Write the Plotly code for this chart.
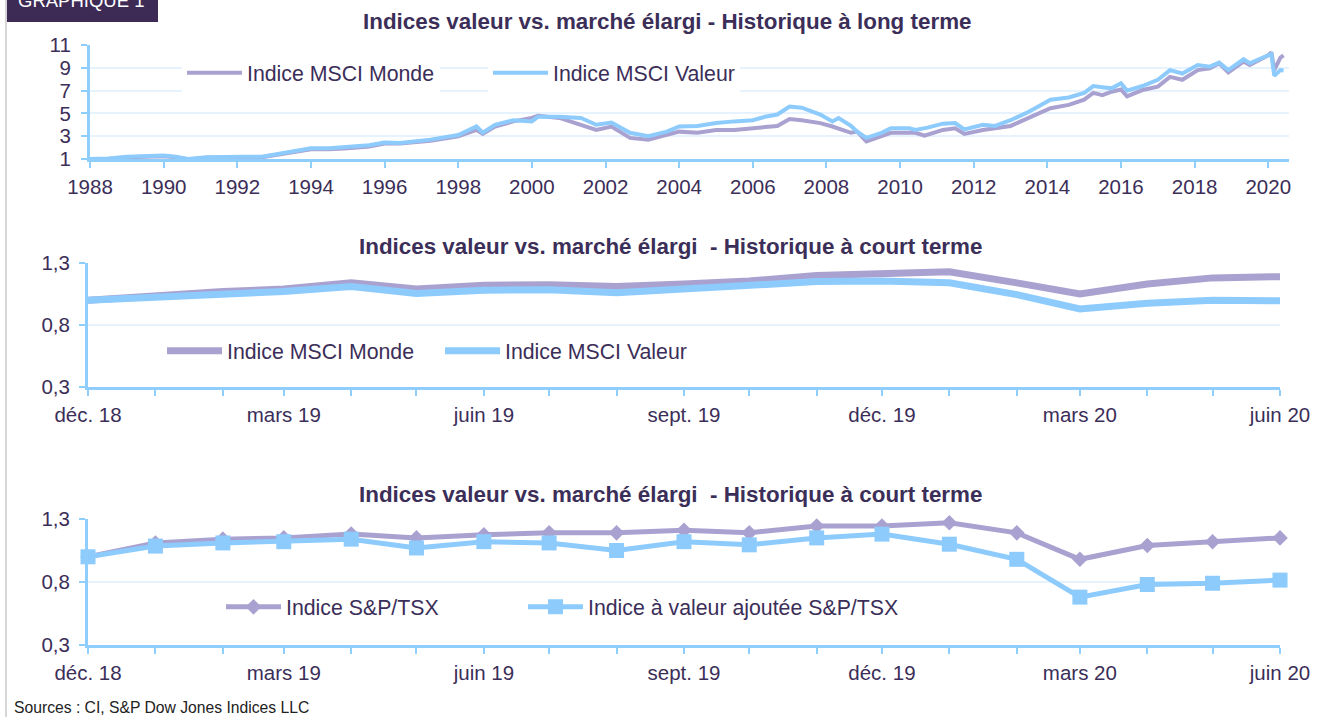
import plotly.graph_objects as go

# ---------------- DATA ----------------
# Long-term history
lt_monde_dates = ["1988-01", "1988-07", "1989-01", "1989-07", "1990-01", "1990-05", "1990-09", "1991-03",
                  "1991-09", "1992-03", "1992-09", "1993-01", "1993-06", "1994-01", "1994-07", "1995-01",
                  "1995-08", "1996-01", "1996-06", "1997-04", "1998-01", "1998-07", "1998-09", "1999-01",
                  "1999-07", "2000-01", "2000-03", "2000-10", "2001-05", "2001-10", "2002-03", "2002-09",
                  "2003-03", "2003-09", "2004-01", "2004-07", "2005-01", "2005-07", "2006-01", "2006-05",
                  "2006-09", "2007-01", "2007-05", "2007-11", "2008-03", "2008-09", "2008-11", "2009-02",
                  "2009-10", "2010-06", "2010-09", "2011-03", "2011-07", "2011-10", "2012-04", "2013-01",
                  "2013-07", "2014-02", "2014-08", "2015-01", "2015-04", "2015-07", "2015-10", "2016-01",
                  "2016-03", "2016-08", "2017-01", "2017-05", "2017-09", "2018-02", "2018-06", "2018-09",
                  "2018-12", "2019-05", "2019-07", "2020-01", "2020-02", "2020-03", "2020-05", "2020-06"]
lt_monde_vals = [1.0, 1.0, 1.15, 1.2, 1.25, 1.15, 0.95, 1.1,
                 1.15, 1.15, 1.15, 1.3, 1.55, 1.85, 1.85, 1.95,
                 2.1, 2.35, 2.35, 2.6, 3.0, 3.55, 3.2, 3.85,
                 4.3, 4.6, 4.8, 4.6, 4.0, 3.55, 3.85, 2.85,
                 2.7, 3.1, 3.4, 3.3, 3.55, 3.55, 3.7, 3.85,
                 3.9, 4.5, 4.4, 4.15, 3.85, 3.3, 3.4, 2.55,
                 3.3, 3.3, 3.05, 3.55, 3.7, 3.2, 3.55, 3.9,
                 4.6, 5.45, 5.75, 6.2, 6.8, 6.6, 6.9, 7.1,
                 6.5, 7.05, 7.35, 8.2, 7.95, 8.8, 8.95, 9.4,
                 8.6, 9.55, 9.25, 10.1, 10.35, 8.8, 9.9, 10.1]

lt_valeur_dates = ["1988-01", "1988-07", "1989-01", "1989-07", "1990-01", "1990-05", "1990-09", "1991-03",
                   "1991-09", "1992-03", "1992-09", "1993-01", "1993-06", "1994-01", "1994-07", "1995-01",
                   "1995-08", "1996-01", "1996-06", "1997-04", "1998-01", "1998-07", "1998-09", "1999-01",
                   "1999-07", "2000-01", "2000-03", "2000-10", "2001-05", "2001-10", "2002-03", "2002-09",
                   "2003-03", "2003-09", "2004-01", "2004-07", "2005-01", "2005-07", "2006-01", "2006-05",
                   "2006-09", "2007-01", "2007-05", "2007-11", "2008-03", "2008-05", "2008-09", "2008-11",
                   "2009-02", "2009-07", "2009-10", "2010-04", "2010-06", "2010-10", "2011-03", "2011-07",
                   "2011-10", "2012-04", "2012-08", "2013-01", "2013-07", "2014-02", "2014-08", "2015-01",
                   "2015-04", "2015-07", "2015-10", "2016-01", "2016-03", "2016-08", "2017-01", "2017-05",
                   "2017-09", "2018-02", "2018-06", "2018-09", "2018-12", "2019-05", "2019-07", "2020-01",
                   "2020-02", "2020-03", "2020-05", "2020-06"]
lt_valeur_vals = [1.0, 1.05, 1.2, 1.25, 1.3, 1.2, 1.0, 1.15,
                  1.2, 1.2, 1.2, 1.4, 1.65, 1.95, 1.95, 2.05,
                  2.2, 2.45, 2.4, 2.7, 3.1, 3.85, 3.3, 4.0,
                  4.4, 4.3, 4.7, 4.7, 4.6, 4.0, 4.2, 3.3,
                  3.0, 3.4, 3.85, 3.9, 4.15, 4.3, 4.4, 4.7,
                  4.9, 5.6, 5.5, 4.9, 4.3, 4.6, 3.9, 3.4,
                  2.85, 3.3, 3.7, 3.7, 3.55, 3.75, 4.1, 4.15,
                  3.6, 4.0, 3.9, 4.4, 5.15, 6.2, 6.4, 6.8,
                  7.4, 7.3, 7.2, 7.65, 7.0, 7.4, 7.95, 8.8,
                  8.5, 9.25, 9.1, 9.45, 8.8, 9.75, 9.4, 10.1,
                  10.2, 8.3, 8.8, 8.75]

# Short-term (monthly, déc. 18 -> juin 20)
st_months = ["2018-12", "2019-01", "2019-02", "2019-03", "2019-04", "2019-05", "2019-06", "2019-07",
             "2019-08", "2019-09", "2019-10", "2019-11", "2019-12", "2020-01", "2020-02", "2020-03",
             "2020-04", "2020-05", "2020-06"]
st_labels = ["déc. 18", "", "", "mars 19", "", "", "juin 19", "", "", "sept. 19", "", "",
             "déc. 19", "", "", "mars 20", "", "", "juin 20"]
msci_monde = [1.0, 1.04, 1.07, 1.09, 1.14, 1.09, 1.12, 1.125, 1.11, 1.13, 1.155, 1.2,
              1.21, 1.23, 1.14, 1.05, 1.13, 1.18, 1.19]
msci_valeur = [1.0, 1.02, 1.05, 1.07, 1.11, 1.055, 1.08, 1.085, 1.06, 1.09, 1.11, 1.15,
               1.155, 1.14, 1.045, 0.93, 0.975, 1.0, 0.995]
sptsx = [1.0, 1.11, 1.14, 1.15, 1.18, 1.15, 1.175, 1.19, 1.19, 1.21, 1.19, 1.245,
         1.245, 1.27, 1.19, 0.98, 1.09, 1.12, 1.15]
sptsx_valeur = [1.0, 1.085, 1.11, 1.12, 1.14, 1.07, 1.12, 1.11, 1.05, 1.12, 1.095, 1.15,
                1.18, 1.10, 0.98, 0.68, 0.78, 0.79, 0.815]

lt_yticks = [1, 3, 5, 7, 9, 11]
st_yticks = [0.3, 0.8, 1.3]

# ---------------- STYLE ----------------
W, H = 1333, 717
PURPLE = "#a9a2d0"
BLUE = "#8dcbfd"
AXIS = "#8fcdfc"
GRID = "#e6f3fe"
TXT = "#3b2e58"
FONT = "Liberation Sans, Arial, sans-serif"


def fx(p):
    return p / W


def fy(p):
    return 1 - p / H


fig = go.Figure()

# Top chart
fig.add_trace(go.Scatter(x=lt_monde_dates, y=lt_monde_vals, mode="lines", name="Indice MSCI Monde",
                         line=dict(color=PURPLE, width=4), xaxis="x", yaxis="y", legend="legend",
                         showlegend=True))
fig.add_trace(go.Scatter(x=lt_valeur_dates, y=lt_valeur_vals, mode="lines", name="Indice MSCI Valeur",
                         line=dict(color=BLUE, width=4), xaxis="x", yaxis="y", legend="legend2",
                         showlegend=True))
# Middle chart
fig.add_trace(go.Scatter(x=st_months, y=msci_monde, mode="lines", name="Indice MSCI Monde",
                         line=dict(color=PURPLE, width=7), xaxis="x2", yaxis="y2", legend="legend3",
                         cliponaxis=False, showlegend=True))
fig.add_trace(go.Scatter(x=st_months, y=msci_valeur, mode="lines", name="Indice MSCI Valeur",
                         line=dict(color=BLUE, width=7), xaxis="x2", yaxis="y2", legend="legend4",
                         cliponaxis=False, showlegend=True))
# Bottom chart
fig.add_trace(go.Scatter(x=st_months, y=sptsx, mode="lines+markers", name="Indice S&P/TSX",
                         line=dict(color=PURPLE, width=5),
                         marker=dict(symbol="diamond", size=12, color=PURPLE),
                         xaxis="x3", yaxis="y3", legend="legend5", cliponaxis=False, showlegend=True))
fig.add_trace(go.Scatter(x=st_months, y=sptsx_valeur, mode="lines+markers",
                         name="Indice à valeur ajoutée S&P/TSX",
                         line=dict(color=BLUE, width=5),
                         marker=dict(symbol="square", size=15, color=BLUE),
                         xaxis="x3", yaxis="y3", legend="legend6", cliponaxis=False, showlegend=True))

tickfont = dict(family=FONT, size=20.5, color=TXT)

lt_xrange = ["1988-01-01", "2020-07-25"]
st_xrange = ["2018-12-01", "2020-06-01"]

dom_top_x = [fx(90), fx(1289)]
dom_top_y = [fy(159), fy(45)]
dom_mid_x = [fx(88), fx(1280)]
dom_mid_y = [fy(387), fy(263)]
dom_bot_x = [fx(88), fx(1280)]
dom_bot_y = [fy(645), fy(519)]

common_x = dict(showline=True, linecolor=AXIS, linewidth=3, ticks="outside", tickcolor=AXIS,
                tickwidth=2, ticklen=6, showgrid=False, zeroline=False, tickfont=tickfont,
                ticklabelstandoff=1, automargin=False)
common_y = dict(showline=True, linecolor=AXIS, linewidth=3, ticks="outside", tickcolor=AXIS,
                tickwidth=2, ticklen=6, showgrid=True, gridcolor=GRID, gridwidth=2,
                zeroline=False, tickfont=tickfont, automargin=False)
inside = dict(ticks="inside", ticklen=6, tickwidth=2, tickcolor=AXIS, showticklabels=False,
              showgrid=False, zeroline=False, showline=False, automargin=False)

layout = dict(
    width=W, height=H, margin=dict(l=0, r=0, t=0, b=0, autoexpand=False),
    paper_bgcolor="white", plot_bgcolor="white", separators=", ", showlegend=True,
    font=dict(family=FONT, color=TXT),
    xaxis=dict(common_x, domain=dom_top_x, anchor="y", type="date", range=lt_xrange,
               tick0="1988-01-01", dtick="M24", tickformat="%Y"),
    yaxis=dict(common_y, domain=dom_top_y, anchor="x", range=[1, 11], tickvals=lt_yticks,
               ticklabelstandoff=6),
    xaxis2=dict(common_x, domain=dom_mid_x, anchor="y2", type="date", range=st_xrange,
                tickvals=st_months, ticktext=st_labels),
    yaxis2=dict(common_y, domain=dom_mid_y, anchor="x2", range=[0.3, 1.3], tickvals=st_yticks,
                tickformat=".1f", ticklabelstandoff=5),
    xaxis3=dict(common_x, domain=dom_bot_x, anchor="y3", type="date", range=st_xrange,
                tickvals=st_months, ticktext=st_labels),
    yaxis3=dict(common_y, domain=dom_bot_y, anchor="x3", range=[0.3, 1.3], tickvals=st_yticks,
                tickformat=".1f", ticklabelstandoff=5),
    # inside ticks (to make crossing tick marks)
    xaxis4=dict(inside, domain=dom_top_x, anchor="y", overlaying="x", type="date", range=lt_xrange,
                tick0="1988-01-01", dtick="M24"),
    yaxis4=dict(inside, domain=dom_top_y, anchor="x", overlaying="y", range=[1, 11], tickvals=lt_yticks),
    xaxis5=dict(inside, domain=dom_mid_x, anchor="y2", overlaying="x2", type="date", range=st_xrange,
                tickvals=st_months),
    yaxis5=dict(inside, domain=dom_mid_y, anchor="x2", overlaying="y2", range=[0.3, 1.3],
                tickvals=st_yticks),
    xaxis6=dict(inside, domain=dom_bot_x, anchor="y3", overlaying="x3", type="date", range=st_xrange,
                tickvals=st_months),
    yaxis6=dict(inside, domain=dom_bot_y, anchor="x3", overlaying="y3", range=[0.3, 1.3],
                tickvals=st_yticks),
)

legfont = dict(family=FONT, size=21.3, color=TXT)


def leg(xp, yp, bg="white"):
    return dict(x=fx(xp), y=fy(yp), xanchor="left", yanchor="middle", orientation="h",
                bgcolor=bg, font=legfont, borderwidth=0, itemclick=False, itemdoubleclick=False,
                visible=True, itemwidth=55)


layout["legend"] = leg(182, 73)
layout["legend2"] = leg(488, 73)
layout["legend3"] = leg(162, 351)
layout["legend4"] = leg(440, 351)
layout["legend5"] = leg(221, 607)
layout["legend6"] = leg(523, 607)

titlefont = dict(family=FONT, size=22.4, color=TXT)
annotations = [
    dict(text="<b>Indices valeur vs. marché élargi - Historique à long terme</b>", x=fx(667), y=fy(22),
         xref="paper", yref="paper", showarrow=False, font=titlefont, xanchor="center", yanchor="middle"),
    dict(text="<b>Indices valeur vs. marché élargi  - Historique à court terme</b>", x=fx(670), y=fy(246),
         xref="paper", yref="paper", showarrow=False, font=titlefont, xanchor="center", yanchor="middle"),
    dict(text="<b>Indices valeur vs. marché élargi  - Historique à court terme</b>", x=fx(670), y=fy(494),
         xref="paper", yref="paper", showarrow=False, font=titlefont, xanchor="center", yanchor="middle"),
    dict(text="Sources : CI, S&P Dow Jones Indices LLC", x=fx(12), y=fy(707), xref="paper", yref="paper",
         showarrow=False, font=dict(family=FONT, size=15.7, color="#222222"), xanchor="left",
         yanchor="middle"),
    dict(text="GRAPHIQUE 1", x=fx(16), y=fy(0), xref="paper", yref="paper", showarrow=False,
         font=dict(family=FONT, size=18.5, color="white"), xanchor="left", yanchor="middle"),
]
layout["annotations"] = annotations
layout["shapes"] = [
    dict(type="rect", xref="paper", yref="paper", x0=fx(5), x1=fx(158), y0=fy(22), y1=1.0,
         fillcolor="#3d2b56", line=dict(width=0), layer="below"),
    dict(type="line", xref="paper", yref="paper", x0=fx(6), x1=fx(6), y0=0, y1=1,
         line=dict(color="#d6d6d6", width=2)),
]

fig.update_layout(layout)
fig.write_html("out.html", config={"displayModeBar": False},
               post_script="document.body.style.margin='0';document.body.style.overflow='hidden';")
